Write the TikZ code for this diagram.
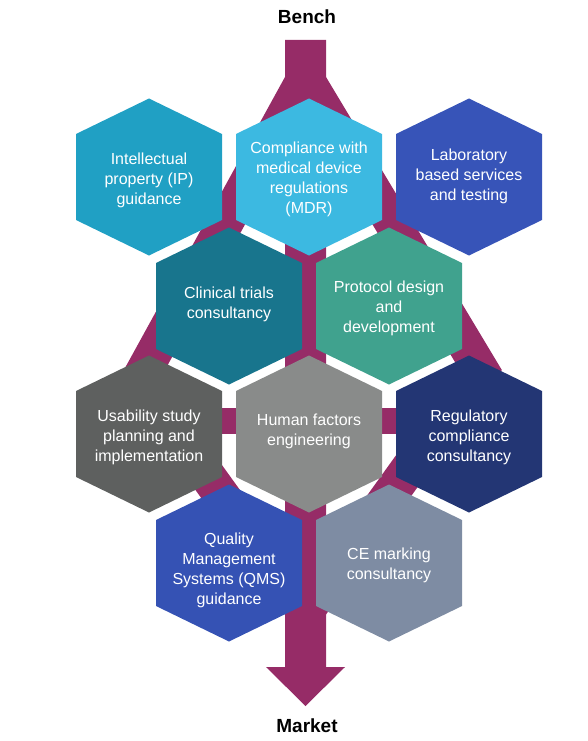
\documentclass[tikz,border=0pt]{standalone}
\usepackage{fontspec}
\setmainfont{Liberation Sans}
\usepackage{tikz}
\usetikzlibrary{positioning,calc}
\definecolor{plum}{RGB}{150,44,103}
\definecolor{ipcol}{RGB}{32,160,196}
\definecolor{mdrcol}{RGB}{60,185,225}
\definecolor{labcol}{RGB}{55,84,184}
\definecolor{clincol}{RGB}{24,117,141}
\definecolor{protcol}{RGB}{64,162,142}
\definecolor{usecol}{RGB}{94,96,95}
\definecolor{humcol}{RGB}{137,139,138}
\definecolor{regcol}{RGB}{35,54,116}
\definecolor{qmscol}{RGB}{53,82,180}
\definecolor{cecol}{RGB}{126,140,163}
\tikzset{
  trunk/.style={fill=plum},                 % bench-to-market backbone
  hexlbl/.style={text=white,align=center,inner sep=0pt,
    font=\fontsize{16}{20}\selectfont},
  endlbl/.style={font=\fontsize{19}{22}\selectfont\bfseries},
}

\begin{document}
\begin{tikzpicture}[x=1pt,y=-1pt]
  \useasboundingbox (0,0) rectangle (588,741);
  % backbone: rhombus band, cross bar, arrow
  \fill[trunk,even odd rule] (304.6,41.3)--(117.5,381.6)--(305.5,643)--(501.8,370)--cycle
    (306,113.6)--(160,379)--(305.5,581)--(458.7,368.2)--cycle;
  \fill[trunk] (95,408) rectangle (516,434);
  \fill[trunk] (285,40)--(326,40)--(326,667)--(345,667)--(305.5,706)--(266,667)--(285,667)--cycle;
  % cells
  \foreach \nm/\cx/\cy/\ty/\col/\txt in {
    ip/149/177/180/ipcol/{Intellectual\\property (IP)\\guidance},
    mdr/309/177/179/mdrcol/{Compliance with\\medical device\\regulations\\(MDR)},
    lab/469/177/176/labcol/{Laboratory\\based services\\and testing},
    clin/229/306/304/clincol/{Clinical trials\\consultancy},
    prot/389/306/308/protcol/{Protocol design\\and\\development},
    use/149/434/437/usecol/{Usability study\\planning and\\implementation},
    hum/309/434/431/humcol/{Human factors\\engineering},
    reg/469/434/437/regcol/{Regulatory\\compliance\\consultancy},
    qms/229/563/570/qmscol/{Quality\\Management\\Systems (QMS)\\guidance},
    ce/389/563/565/cecol/{CE marking\\consultancy}}{
    \fill[\col] (\cx,\cy) ++(0,-78.5) -- ++(73,35.5) -- ++(0,86) -- ++(-73,35.5)
      -- ++(-73,-35.5) -- ++(0,-86) -- cycle;
    \node[hexlbl] (\nm) at (\cx,\ty) {\txt};
  }
  \node[endlbl] (bench) at (307,17) {Bench};
  \node[endlbl] (market) at (307,726) {Market};
\end{tikzpicture}
\end{document}
